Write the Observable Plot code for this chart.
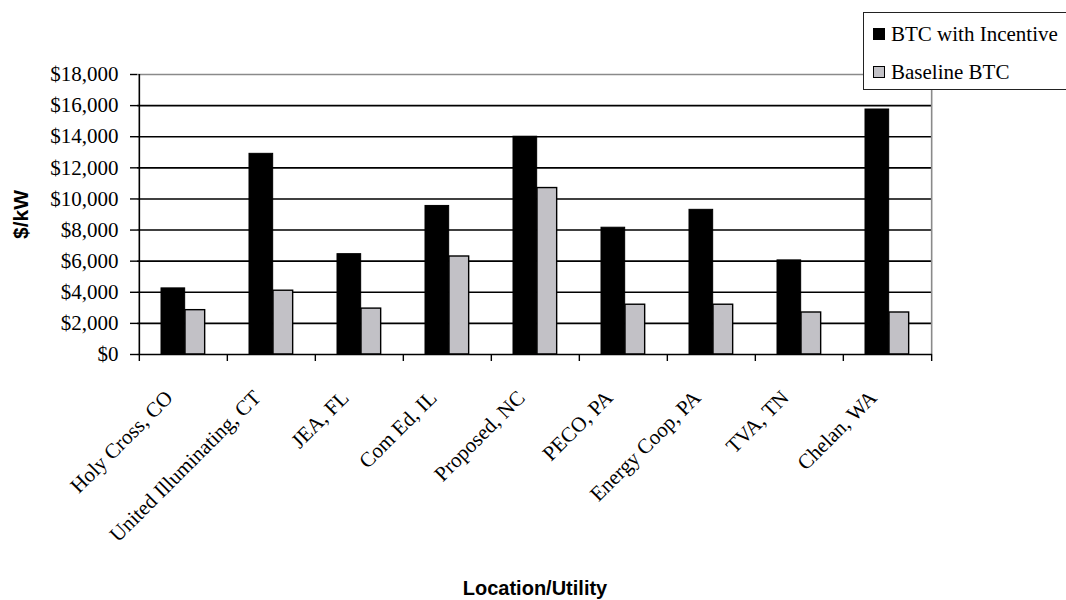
<!DOCTYPE html>
<html>
<head>
<meta charset="utf-8">
<script src="https://cdn.jsdelivr.net/npm/d3@7"></script>
<script src="https://cdn.jsdelivr.net/npm/@observablehq/plot@0.6"></script>
<style>
  html, body { margin: 0; padding: 0; background: #fff; overflow: hidden; width: 1066px; height: 600px; }
  #wrap { position: relative; width: 1066px; height: 600px; }
  #legend { position: absolute; left: 863px; top: 12px; width: 230px; height: 76px;
    border: 1.5px solid #222; background: #fff;
    font-family: "Liberation Serif", "Times New Roman", serif; font-size: 21px; color: #000; }
  .item { position: absolute; left: 9px; height: 24px; line-height: 24px; white-space: nowrap; }
  .sw { display: inline-block; width: 10px; height: 10px; border: 1px solid #000; margin-right: 6px; vertical-align: 1px; }
</style>
</head>
<body>
<div id="wrap"></div>
<script>
const categories = ["Holy Cross, CO", "United Illuminating, CT", "JEA, FL", "Com Ed, IL", "Proposed, NC", "PECO, PA", "Energy Coop, PA", "TVA, TN", "Chelan, WA"];
const incentive = [4250, 12900, 6450, 9550, 14000, 8150, 9300, 6050, 15750];
const baseline = [2850, 4100, 2950, 6300, 10700, 3200, 3200, 2700, 2700];
const yTicks = [0, 2000, 4000, 6000, 8000, 10000, 12000, 14000, 16000, 18000];
const seriesNames = ["BTC with Incentive", "Baseline BTC"];
const seriesColors = ["#000000", "#c2c1c6"];
const yTitle = "$/kW";
const xTitle = "Location/Utility";

const rows = categories.map((c, i) => ({cat: c, incentive: incentive[i], baseline: baseline[i]}));

const W = 1066, H = 600, mL = 137, mR = 134, mT = 74, mB = 246;
const step = (W - mL - mR) / categories.length;
const fmt = d => "$" + d3.format(",")(d);

const chart = Plot.plot({
  width: W, height: H,
  marginLeft: mL, marginRight: mR, marginTop: mT, marginBottom: mB,
  style: {fontFamily: "'Liberation Serif', 'Times New Roman', serif", fontSize: "21px", color: "#000", background: "#fff", overflow: "visible"},
  x: {domain: categories, padding: 0, axis: null},
  y: {domain: [0, 18000], axis: null},
  marks: [
    Plot.ruleY(yTicks.filter(d => d > 0 && d < 18000), {stroke: "#000", strokeWidth: 1.6}),
    Plot.ruleY([18000], {stroke: "#8a8a8a", strokeWidth: 1.6}),
    Plot.ruleX([categories[categories.length - 1]], {x: d => d, dx: step / 2, stroke: "#8a8a8a", strokeWidth: 1.6}),
    Plot.barY(rows, {x: "cat", y: "incentive", fill: seriesColors[0], stroke: "#000", strokeWidth: 1, insetLeft: 22, insetRight: step - 46}),
    Plot.barY(rows, {x: "cat", y: "baseline", fill: seriesColors[1], stroke: "#000", strokeWidth: 1.4, insetLeft: 46, insetRight: step - 66}),
    Plot.ruleX([categories[0]], {x: d => d, dx: -step / 2, stroke: "#000", strokeWidth: 1.6}),
    Plot.ruleY([0], {stroke: "#000", strokeWidth: 1.6}),
    Plot.ruleX(categories, {x: d => d, dx: -step / 2, insetTop: H - mT - mB, insetBottom: -7, stroke: "#000", strokeWidth: 1.4}),
    Plot.ruleX([categories[categories.length - 1]], {x: d => d, dx: step / 2, insetTop: H - mT - mB, insetBottom: -7, stroke: "#000", strokeWidth: 1.4}),
    Plot.axisY({ticks: yTicks, tickSize: 7, tickPadding: 12, tickFormat: fmt, fontSize: 21, label: null, stroke: "#000", strokeWidth: 1.4}),
    Plot.text(categories, {x: d => d, frameAnchor: "bottom", rotate: -45, textAnchor: "end", lineAnchor: "top", dx: -20, dy: 34, fontSize: 21, fill: "#000"}),
    Plot.text([xTitle], {frameAnchor: "bottom", dy: 240, lineAnchor: "bottom", textAnchor: "middle", fontFamily: "'Liberation Sans', Arial, sans-serif", fontWeight: "bold", fontSize: 20, fill: "#000"}),
    Plot.text([yTitle], {frameAnchor: "left", dx: -116, rotate: -90, textAnchor: "middle", fontFamily: "'Liberation Sans', Arial, sans-serif", fontWeight: "bold", fontSize: 21, fill: "#000"})
  ]
});

const wrap = document.getElementById("wrap");
wrap.appendChild(chart);

const legend = document.createElement("div");
legend.id = "legend";
seriesNames.forEach((name, i) => {
  const item = document.createElement("div");
  item.className = "item";
  item.style.top = (i === 0 ? 9 : 47) + "px";
  const sw = document.createElement("span");
  sw.className = "sw";
  sw.style.background = seriesColors[i];
  item.appendChild(sw);
  item.appendChild(document.createTextNode(name));
  legend.appendChild(item);
});
wrap.appendChild(legend);
</script>
</body>
</html>
